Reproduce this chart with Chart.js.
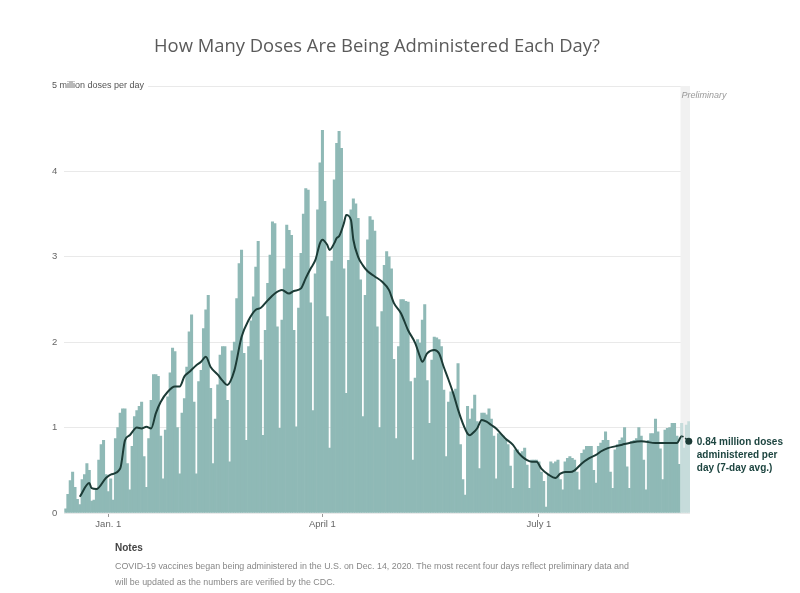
<!DOCTYPE html>
<html lang="en">
<head>
<meta charset="UTF-8">
<title>How Many Doses Are Being Administered Each Day?</title>
<style>
  body { margin: 0; background: #fff; }
  #wrap { position: relative; width: 800px; height: 593px; }
  canvas { position: absolute; left: 0; top: 0; }
  #title { position: absolute; left: 0; top: 33px; width: 754px; text-align: center;
           font-family: "Open Sans", sans-serif; font-size: 18.4px; color: #5a5a5a; line-height: 24px; }
  #notes { position: absolute; left: 115px; top: 540px; font-family: "Liberation Sans", Arial, sans-serif;
           font-size: 8.9px; color: #888; line-height: 16px; }
  #notes b { display: block; color: #444; font-size: 10px; margin-bottom: 2px; }
</style>
</head>
<body>
<div id="wrap">
  <canvas id="myChart" width="800" height="593"></canvas>
  <div id="title">How Many Doses Are Being Administered Each Day?</div>
  <div id="notes">
    <b>Notes</b>
    COVID-19 vaccines began being administered in the U.S. on Dec. 14, 2020. The most recent four days reflect preliminary data and<br>
    will be updated as the numbers are verified by the CDC.
  </div>
</div>

<script src="https://cdn.jsdelivr.net/npm/chart.js"></script>
<script>
// daily doses, millions, from Mon Dec. 14, 2020 (one row = one week, Mon..Sun)
const v_doses = [
  0.05, 0.22, 0.38, 0.48, 0.30, 0.16, 0.10,
  0.39, 0.45, 0.58, 0.50, 0.14, 0.15, 0.28,
  0.62, 0.80, 0.85, 0.45, 0.25, 0.40, 0.15,
  0.87, 1.00, 1.17, 1.22, 1.22, 0.58, 0.27,
  0.78, 1.13, 1.20, 1.25, 1.30, 0.66, 0.30,
  0.87, 1.32, 1.62, 1.62, 1.60, 0.90, 0.40,
  0.97, 1.36, 1.64, 1.93, 1.89, 1.00, 0.46,
  1.17, 1.34, 1.71, 2.12, 2.32, 1.30, 0.46,
  1.54, 1.67, 2.16, 2.38, 2.55, 1.46, 0.58,
  1.10, 1.50, 1.85, 1.95, 1.95, 1.32, 0.60,
  1.90, 2.00, 2.51, 2.92, 3.08, 1.87, 0.85,
  1.95, 2.25, 2.53, 2.88, 3.18, 1.79, 0.91,
  2.14, 2.69, 3.02, 3.41, 3.39, 2.18, 0.99,
  2.26, 2.86, 3.37, 3.31, 3.25, 2.14, 1.01,
  2.40, 3.04, 3.50, 3.80, 3.78, 2.46, 1.20,
  2.80, 3.55, 4.10, 4.48, 3.65, 2.30, 0.76,
  2.95, 3.90, 4.33, 4.47, 4.27, 2.86, 1.40,
  2.96, 3.55, 3.68, 3.62, 3.45, 2.73, 1.13,
  2.55, 3.20, 3.47, 3.43, 3.30, 2.18, 1.00,
  2.36, 2.90, 3.06, 3.00, 2.86, 1.80, 0.87,
  1.95, 2.50, 2.50, 2.48, 2.47, 1.54, 0.62,
  1.58, 2.03, 1.99, 2.26, 2.44, 1.55, 1.05,
  1.79, 2.06, 2.05, 2.03, 1.95, 1.44, 0.66,
  1.30, 1.42, 1.42, 1.45, 1.75, 0.80, 0.39,
  0.21, 1.25, 1.10, 1.22, 1.38, 1.07, 0.52,
  1.17, 1.17, 1.15, 1.22, 1.10, 0.90, 0.40,
  0.93, 0.92, 0.90, 0.85, 0.80, 0.55, 0.29,
  0.74, 0.74, 0.70, 0.72, 0.76, 0.56, 0.29,
  0.62, 0.62, 0.62, 0.60, 0.48, 0.37, 0.07,
  0.45, 0.60, 0.58, 0.60, 0.62, 0.39, 0.27,
  0.60, 0.64, 0.66, 0.64, 0.62, 0.48, 0.27,
  0.70, 0.74, 0.78, 0.78, 0.78, 0.50, 0.35,
  0.78, 0.82, 0.85, 0.95, 0.85, 0.48, 0.29,
  0.74, 0.80, 0.85, 0.88, 1.00, 0.54, 0.29,
  0.84, 0.85, 0.87, 1.00, 0.90, 0.62, 0.27,
  0.85, 0.93, 0.93, 1.10, 0.95, 0.75, 0.39,
  0.97, 0.99, 1.00, 1.05, 1.05, 0.90, 0.57,
  1.05, 0.76, 1.03, 1.07
];
const v_prelimDays = 4;

// 7-day average: day index since Dec. 14 and value
const v_avgDays = [6, 10, 11, 13, 17, 19, 23, 25, 27, 30, 32, 34, 36, 38, 40, 43, 46, 48, 50, 52,
  55, 57, 59, 61, 64, 66, 68, 71, 74, 77, 80, 82, 85, 88, 91, 94, 96, 99, 101, 103,
  105, 107, 108, 110, 111, 113, 114, 115, 117, 118, 120, 121, 123, 125, 127, 130, 133, 136, 138, 141,
  144, 147, 149, 150, 152, 155, 157, 159, 161, 163, 165, 167, 169, 170, 171, 173, 175, 177, 179, 181,
  183, 185, 188, 190, 192, 194, 196, 198, 200, 203, 206, 208, 210, 212, 214, 217, 220, 223, 225, 228,
  231, 234, 237, 242, 248, 253, 257, 259, 262];
const v_avgValues = [0.19, 0.35, 0.29, 0.28, 0.41, 0.45, 0.52, 0.85, 0.91, 1.00, 0.99, 1.01, 0.99, 1.17, 1.30, 1.42, 1.48, 1.48, 1.60, 1.65,
  1.73, 1.77, 1.83, 1.71, 1.62, 1.55, 1.50, 1.67, 2.06, 2.26, 2.38, 2.40, 2.49, 2.57, 2.61, 2.57, 2.60, 2.63, 2.75, 2.86,
  2.96, 3.16, 3.20, 3.14, 3.08, 3.16, 3.22, 3.24, 3.39, 3.49, 3.43, 3.20, 3.00, 2.90, 2.83, 2.77, 2.71, 2.61, 2.46, 2.34,
  2.14, 1.99, 1.83, 1.77, 1.87, 1.91, 1.87, 1.71, 1.56, 1.40, 1.21, 1.05, 0.93, 0.91, 0.93, 0.99, 1.09, 1.07, 1.03, 0.99,
  0.93, 0.87, 0.80, 0.72, 0.66, 0.62, 0.60, 0.60, 0.52, 0.45, 0.41, 0.46, 0.48, 0.48, 0.50, 0.58, 0.64, 0.68, 0.72, 0.76,
  0.78, 0.80, 0.82, 0.84, 0.82, 0.82, 0.82, 0.90, 0.84];

const v_tickDays = [18, 108, 199];
const v_tickNames = ["Jan. 1", "April 1", "July 1"];
const v_yTitle = "5 million doses per day";
const v_noteLines = ["0.84 million doses", "administered per", "day (7-day avg.)"];

// one label per day
let v_labels = [];
let v_start = new Date(Date.UTC(2020, 11, 14));
for (let i = 0; i < v_doses.length; i++) {
  let d = new Date(v_start.getTime() + i * 86400000);
  v_labels.push(d.toISOString().slice(0, 10));
}

let v_avgPoints = [];
for (let i = 0; i < v_avgDays.length; i++) {
  v_avgPoints.push({ x: v_labels[v_avgDays[i]], y: v_avgValues[i] });
}

const N = v_doses.length;
const LAST = v_avgPoints.length - 1;
const FONT = '"Liberation Sans", Arial, sans-serif';
Chart.defaults.font.family = FONT;

function prelimLeft(chart) {
  const area = chart.chartArea;
  const step = (area.right - area.left) / N;
  return chart.scales.x.getPixelForValue(N - v_prelimDays) - step / 2;
}

const extras = {
  id: "extras",
  beforeDatasetsDraw(chart) {
    const { ctx, chartArea } = chart;
    const left = prelimLeft(chart);
    ctx.save();
    ctx.fillStyle = "#f1f1f1";
    ctx.fillRect(left, chartArea.top, chartArea.right - left, chartArea.bottom - chartArea.top);
    ctx.restore();
  },
  afterDraw(chart) {
    const { ctx, scales } = chart;
    ctx.save();
    // axis title sits on the top gridline
    const y5 = scales.y.getPixelForValue(5);
    ctx.font = "9px " + FONT;
    const w = ctx.measureText(v_yTitle).width;
    ctx.fillStyle = "#fff";
    ctx.fillRect(50, y5 - 6, w + 6, 12);
    ctx.fillStyle = "#555";
    ctx.textBaseline = "middle";
    ctx.fillText(v_yTitle, 52, y5);

    // preliminary label
    ctx.font = "italic 9px " + FONT;
    ctx.fillStyle = "#999";
    ctx.fillText("Preliminary", prelimLeft(chart) + 1, y5 + 9);

    // end label of the average line
    const pt = chart.getDatasetMeta(0).data[LAST];
    ctx.font = "bold 10px " + FONT;
    ctx.fillStyle = "#1d4540";
    for (let i = 0; i < v_noteLines.length; i++) {
      ctx.fillText(v_noteLines[i], pt.x + 8, pt.y + 1 + i * 13);
    }
    ctx.restore();
  }
};

new Chart(document.getElementById("myChart"), {
  type: "bar",
  data: {
    labels: v_labels,
    datasets: [
      {
        type: "line",
        data: v_avgPoints,
        borderColor: "#1c3b36",
        borderWidth: 2,
        tension: 0.4,
        cubicInterpolationMode: "monotone",
        pointRadius: (c) => (c.dataIndex === LAST ? 3.5 : 0),
        pointBackgroundColor: "#1c3b36",
        pointBorderWidth: 0,
        segment: {
          borderDash: (c) => (c.p1DataIndex === LAST ? [2, 2] : undefined),
          borderWidth: (c) => (c.p1DataIndex === LAST ? 1.5 : undefined)
        },
        order: 0
      },
      {
        type: "bar",
        data: v_doses,
        backgroundColor: (c) => (c.dataIndex >= N - v_prelimDays ? "#c6dcdb" : "#8fb9b6"),
        borderWidth: 0,
        barPercentage: 1,
        categoryPercentage: 1,
        order: 1
      }
    ]
  },
  options: {
    responsive: false,
    animation: false,
    layout: { padding: { left: 0, right: 110, top: 86, bottom: 60 } },
    plugins: { legend: { display: false }, tooltip: { enabled: false } },
    scales: {
      x: {
        offset: true,
        border: { display: false },
        grid: {
          offset: false,
          drawOnChartArea: false,
          drawTicks: true,
          tickLength: 4,
          color: (c) => (v_tickDays.includes(c.index) ? "#999" : "rgba(0,0,0,0)")
        },
        ticks: {
          autoSkip: false,
          maxRotation: 0,
          minRotation: 0,
          padding: 2,
          color: "#666",
          font: { size: 9.5 },
          callback: (v, i) => {
            const k = v_tickDays.indexOf(i);
            return k >= 0 ? v_tickNames[k] : "";
          }
        },
        afterFit: (s) => { s.height = 20; }
      },
      y: {
        min: 0,
        max: 5,
        border: { display: false },
        grid: { color: "#e9e9e9", drawTicks: false },
        ticks: {
          stepSize: 1,
          padding: 7,
          color: "#666",
          font: { size: 9.5 },
          callback: (v) => (v === 5 ? "" : v)
        },
        afterFit: (s) => { s.width = 64.3; }
      }
    }
  },
  plugins: [extras]
});
</script>
</body>
</html>
